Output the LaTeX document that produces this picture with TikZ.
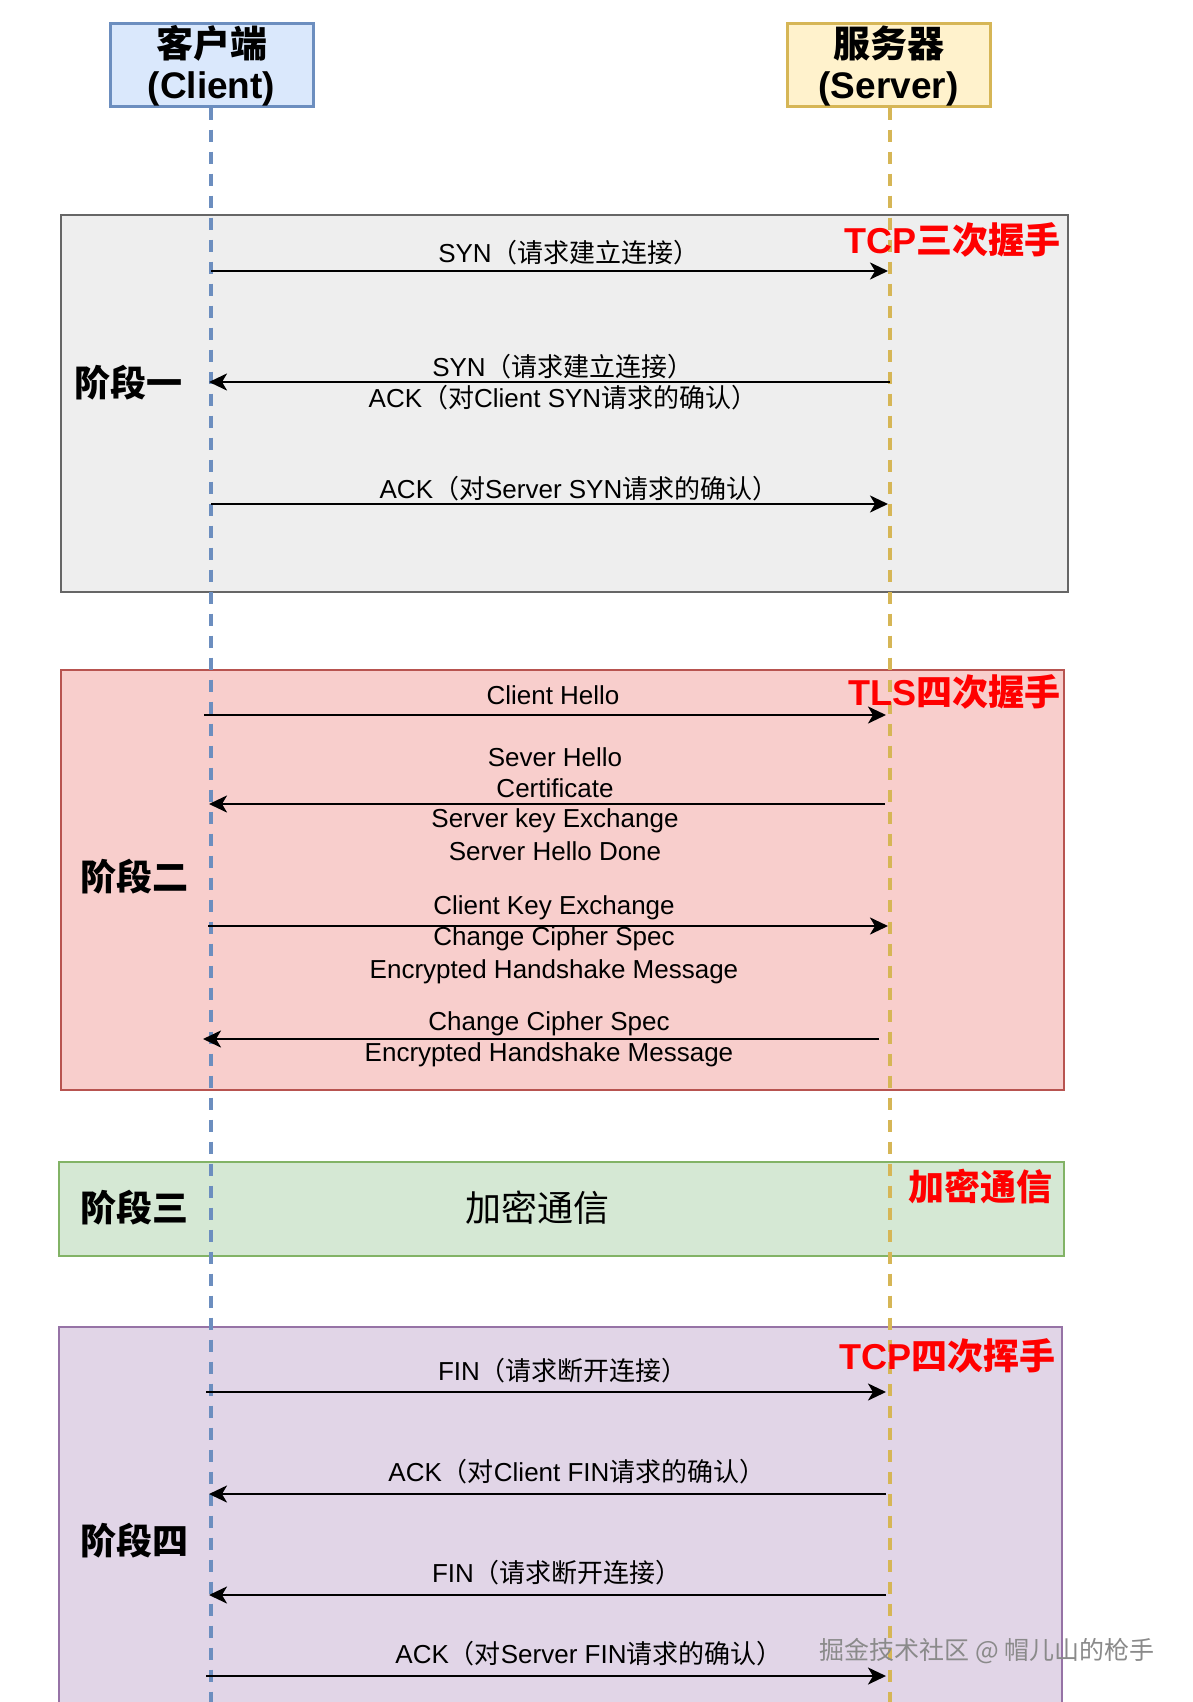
\documentclass[tikz,border=0pt]{standalone}
\usepackage{fontspec}
\setmainfont{Liberation Sans}
\newfontfamily\cjk{Noto Sans CJK SC}
\usetikzlibrary{arrows.meta}
\definecolor{cliFill}{HTML}{DAE8FC}
\definecolor{cliLine}{HTML}{6C8EBF}
\definecolor{srvFill}{HTML}{FFF2CC}
\definecolor{srvLine}{HTML}{D6B656}
\definecolor{p1Fill}{HTML}{EEEEEE}
\definecolor{p1Line}{HTML}{666666}
\definecolor{p2Fill}{HTML}{F8CECC}
\definecolor{p2Line}{HTML}{B85450}
\definecolor{p3Fill}{HTML}{D5E8D4}
\definecolor{p3Line}{HTML}{82B366}
\definecolor{p4Fill}{HTML}{E1D5E7}
\definecolor{p4Line}{HTML}{9673A6}
\definecolor{redTxt}{HTML}{FF0000}
\definecolor{wmTxt}{HTML}{8A8A8A}
\tikzset{
  headbox/.style={draw, line width=3pt, minimum width=203pt, minimum height=82pt, inner sep=0pt},
  headtxt/.style={font=\fontsize{37}{41}\selectfont\bfseries, align=center},
  phasebox/.style={line width=1.8pt},
  lifeline/.style={line width=3.2pt, dash pattern=on 12pt off 10pt},
  msg/.style={line width=2.6pt, black, -{Stealth[length=18pt,width=17pt,inset=5pt]}},
  lbl/.style={font=\fontsize{26}{31}\selectfont, align=center, inner sep=0pt},
  stagetxt/.style={font=\fontsize{36}{40}\selectfont\bfseries\cjk, anchor=west, inner sep=0pt},
  redtxt/.style={font=\fontsize{36}{40}\selectfont\bfseries, text=redTxt, anchor=east, inner sep=0pt}
}
\begin{document}
\begin{tikzpicture}[x=1pt,y=-1pt]
\useasboundingbox (0,0) rectangle (1192,1702);
\fill[white] (0,0) rectangle (1192,1702);

% phase boxes
\draw[phasebox, fill=p1Fill, draw=p1Line] (61,215) rectangle (1068,592);
\draw[phasebox, fill=p2Fill, draw=p2Line] (61,670) rectangle (1064,1090);
\draw[phasebox, fill=p3Fill, draw=p3Line] (59,1162) rectangle (1064,1256);
\draw[phasebox, fill=p4Fill, draw=p4Line] (59,1327) rectangle (1062,1712);

% header boxes
\node[headbox, fill=cliFill, draw=cliLine] (client) at (211.5,65) {};
\node[headbox, fill=srvFill, draw=srvLine] (server) at (888.5,65) {};
\node[headtxt] (clientT) at (211.5,66) {{\cjk 客户端}\\(Client)};
\node[headtxt] (serverT) at (888.5,66) {{\cjk 服务器}\\(Server)};

% lifelines
\coordinate (cEnd) at (211,1702);
\coordinate (sEnd) at (890,1702);
\draw[lifeline, draw=cliLine] (client.south -| cEnd) -- (cEnd);
\draw[lifeline, draw=srvLine] (server.south -| sEnd) -- (sEnd);

% message end points
\coordinate (a1s) at (211,271);  \coordinate (a1e) at (888,271);
\coordinate (a2s) at (890,382);  \coordinate (a2e) at (209,382);
\coordinate (a3s) at (211,504);  \coordinate (a3e) at (888,504);
\coordinate (b1s) at (204,715);  \coordinate (b1e) at (886,715);
\coordinate (b2s) at (885,804);  \coordinate (b2e) at (209,804);
\coordinate (b3s) at (208,926);  \coordinate (b3e) at (888,926);
\coordinate (b4s) at (879,1039); \coordinate (b4e) at (203,1039);
\coordinate (d1s) at (206,1392); \coordinate (d1e) at (886,1392);
\coordinate (d2s) at (886,1494); \coordinate (d2e) at (209,1494);
\coordinate (d3s) at (886,1595); \coordinate (d3e) at (209,1595);
\coordinate (d4s) at (206,1676); \coordinate (d4e) at (886,1676);

\foreach \s/\e in {a1s/a1e,a2s/a2e,a3s/a3e,b1s/b1e,b2s/b2e,b3s/b3e,b4s/b4e,d1s/d1e,d2s/d2e,d3s/d3e,d4s/d4e}
  \draw[msg] (\s) -- (\e);

% phase 1 labels
\node[lbl] (l1) at (569,253) {SYN{\cjk （请求建立连接）}};
\node[lbl] (l2a) at (563,367) {SYN{\cjk （请求建立连接）}};
\node[lbl] (l2b) at (563,398) {ACK{\cjk （对}Client SYN{\cjk 请求的确认）}};
\node[lbl] (l3) at (579,489) {ACK{\cjk （对}Server SYN{\cjk 请求的确认）}};

% phase 2 labels
\node[lbl] (m1) at (553,695) {Client Hello};
\node[lbl] (m2a) at (555,757) {Sever Hello};
\node[lbl] (m2b) at (555,788) {Certificate};
\node[lbl] (m2c) at (555,821) {Server key Exchange};
\node[lbl] (m2d) at (555,851) {Server Hello Done};
\node[lbl] (m3a) at (554,908) {Client Key Exchange};
\node[lbl] (m3b) at (554,939) {Change Cipher Spec};
\node[lbl] (m3c) at (554,972) {Encrypted Handshake Message};
\node[lbl] (m4a) at (549,1024) {Change Cipher Spec};
\node[lbl] (m4b) at (549,1055) {Encrypted Handshake Message};

% phase 3 label
\node[font=\fontsize{36}{40}\selectfont\cjk, inner sep=0pt] (enc) at (537,1208) {加密通信};

% phase 4 labels
\node[lbl] (n1) at (563,1371) {FIN{\cjk （请求断开连接）}};
\node[lbl] (n2) at (577,1472) {ACK{\cjk （对}Client FIN{\cjk 请求的确认）}};
\node[lbl] (n3) at (557,1573) {FIN{\cjk （请求断开连接）}};
\node[lbl] (n4) at (589,1654) {ACK{\cjk （对}Server FIN{\cjk 请求的确认）}};

% stage names
\node[stagetxt] (st1) at (74,383) {阶段一};
\node[stagetxt] (st2) at (80,877) {阶段二};
\node[stagetxt] (st3) at (80,1208) {阶段三};
\node[stagetxt] (st4) at (80,1541) {阶段四};

% red titles
\node[redtxt] (r1) at (1061,240) {TCP{\cjk 三次握手}};
\node[redtxt] (r2) at (1061,692) {TLS{\cjk 四次握手}};
\node[redtxt] (r3) at (1053,1187) {{\cjk 加密通信}};
\node[redtxt] (r4) at (1056,1356) {TCP{\cjk 四次挥手}};

% watermark
\node[font=\fontsize{25}{28}\selectfont\cjk, text=wmTxt, inner sep=0pt] (wm) at (987,1651) {掘金技术社区 @ 帽儿山的枪手};
\end{tikzpicture}
\end{document}
